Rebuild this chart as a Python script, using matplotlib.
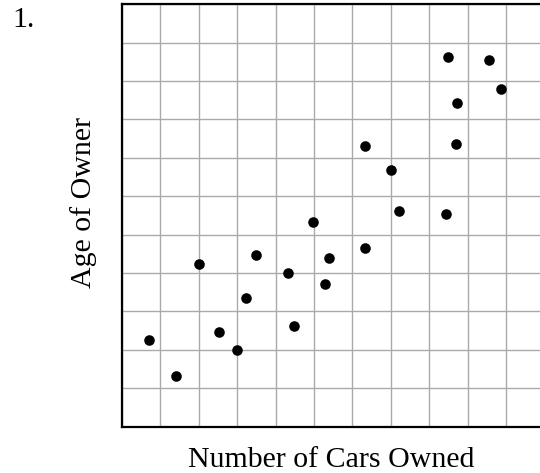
import matplotlib
matplotlib.use("Agg")
import matplotlib.pyplot as plt

# Data (grid units)
cars_owned = [8.49, 9.56, 9.87, 8.73, 6.34, 8.71, 7.01, 7.22, 8.43, 4.98, 6.34,
              3.49, 5.39, 2.00, 4.31, 5.28, 3.22, 4.49, 2.53, 0.71, 3.00, 1.41]
owner_age = [9.63, 9.54, 8.80, 8.42, 7.31, 7.37, 6.68, 5.63, 5.55, 5.33, 4.65,
             4.48, 4.40, 4.23, 4.01, 3.72, 3.36, 2.63, 2.47, 2.25, 2.01, 1.33]
grid_ticks = list(range(12))

x_label = "Number of Cars Owned"
y_label = "Age of Owner"
number_label = "1."

serif = ["Liberation Serif", "DejaVu Serif"]

fig = plt.figure(figsize=(5.4, 4.73), dpi=100)
W, H = 540, 473
left, right, top, bottom = 122, 544.4, 4.3, 426.7
ax = fig.add_axes([left / W, (H - bottom) / H, (right - left) / W, (bottom - top) / H])

ax.scatter(cars_owned, owner_age, s=58, color="black", zorder=3, linewidths=0)
ax.set_xlim(grid_ticks[0], grid_ticks[-1])
ax.set_ylim(grid_ticks[0], grid_ticks[-1])
ax.set_xticks(grid_ticks)
ax.set_yticks(grid_ticks)
ax.set_xticklabels([])
ax.set_yticklabels([])
ax.tick_params(length=0)
ax.grid(True, color="#aaaaaa", linewidth=1.0)
ax.set_axisbelow(True)
for sp in ax.spines.values():
    sp.set_linewidth(1.6)
    sp.set_color("black")

fig.text(331 / W, (H - 466.7) / H, x_label, ha="center", va="baseline",
         fontsize=21.5, family=serif)
fig.text(84 / W, (H - 203) / H, y_label, ha="center", va="center",
         rotation=90, fontsize=21.5, family=serif)
fig.text(12 / W, (H - 27) / H, number_label, ha="left", va="baseline",
         fontsize=21.5, family=serif)

fig.savefig("out.png", dpi=100)
